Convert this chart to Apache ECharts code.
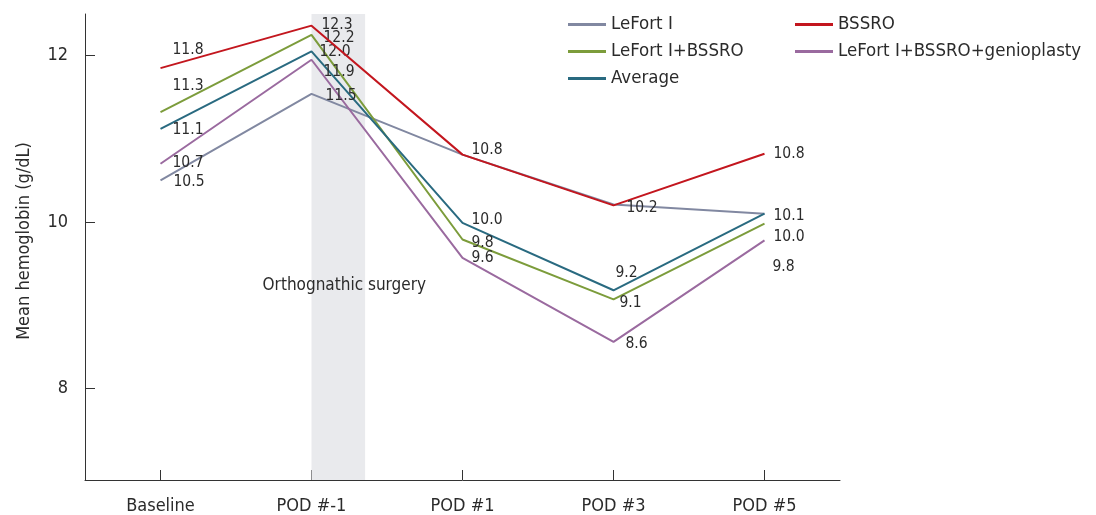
<!DOCTYPE html>
<html><head><meta charset="utf-8">
<script src="https://cdn.jsdelivr.net/npm/echarts@6/dist/echarts.min.js"></script>
<style>html,body{margin:0;padding:0;background:#fff}#c{width:1096px;height:515px}</style>
</head><body><div id="c"></div>
<script>
const categories = ['Baseline', 'POD #-1', 'POD #1', 'POD #3', 'POD #5'];
const seriesNames = ['LeFort I', 'BSSRO', 'LeFort I+BSSRO', 'LeFort I+BSSRO+genioplasty', 'Average'];
const leFort = [10.50, 11.54, 10.81, 10.21, 10.10];
const bssro = [11.85, 12.36, 10.81, 10.20, 10.82];
const leFortBssro = [11.32, 12.25, 9.79, 9.07, 9.98];
const genio = [10.70, 11.95, 9.57, 8.56, 9.78];
const average = [11.12, 12.05, 9.99, 9.18, 10.10];
const leFortLabels = ['10.5', '11.5', null, null, null];
const bssroLabels = ['11.8', '12.3', '10.8', '10.2', '10.8'];
const leFortBssroLabels = ['11.3', '12.2', '9.8', '9.1', '10.0'];
const genioLabels = ['10.7', '11.9', '9.6', '8.6', '9.8'];
const averageLabels = ['11.1', '12.0', '10.0', '9.2', '10.1'];
const yTicks = [8, 10, 12];
const surgeryText = 'Orthognathic surgery';

const FONT = "'Liberation Sans Narrow', 'DejaVu Sans Condensed', 'Noto Sans', sans-serif";
const colors = ['#8188a1', '#c3161e', '#7c9c3b', '#9a6a9f', '#296a80'];
const values = [leFort, bssro, leFortBssro, genio, average];
const labels = [leFortLabels, bssroLabels, leFortBssroLabels, genioLabels, averageLabels];
// label offsets [dx, dy] per series per category (layout only)
const offsets = [
  [[13, 2], [14, 2], [0, 0], [0, 0], [0, 0]],
  [[12, -18], [10, -1], [9, -5], [13, 3], [9, 0]],
  [[12, -26], [12, 3], [9, 3], [6, 4], [9, 13]],
  [[12, -1], [12, 12], [9, 0], [12, 2], [8, 27]],
  [[12, 1], [8, 1], [9, -3], [2, -17], [9, 2]]
];

const series = values.map((vals, si) => ({
  name: seriesNames[si],
  type: 'line',
  symbol: 'circle',
  symbolSize: 0,
  showSymbol: true,
  lineStyle: { width: 2, color: colors[si] },
  itemStyle: { color: colors[si] },
  z: si === 1 ? 5 : 3,
  data: vals.map((v, i) => ({
    value: v,
    label: {
      show: labels[si][i] != null,
      formatter: labels[si][i] || '',
      position: 'right',
      distance: 0,
      offset: offsets[si][i],
      color: '#2b2b2b',
      fontSize: 15.5,
      fontFamily: FONT
    }
  }))
}));

series.push({
  type: 'line',
  xAxisIndex: 1,
  data: [],
  silent: true,
  z: 0,
  markArea: {
    silent: true,
    itemStyle: { color: '#e9eaed' },
    label: {
      show: true,
      position: 'inside',
      offset: [6, 39],
      color: '#2b2b2b',
      fontSize: 17,
      fontFamily: FONT
    },
    data: [[{ xAxis: 1.5, name: surgeryText }, { xAxis: 1.855 }]]
  }
});

const chart = echarts.init(document.getElementById('c'), null, { renderer: 'canvas' });
chart.setOption({
  animation: false,
  grid: { left: 85, right: 256, top: 14, bottom: 33 },
  legend: [
    {
      orient: 'vertical', left: 563, top: 10, itemWidth: 38, itemHeight: 3, itemGap: 8,
      icon: 'rect',
      data: [seriesNames[0], seriesNames[2], seriesNames[4]],
      textStyle: { fontSize: 18.5, color: '#2b2b2b', fontFamily: FONT }
    },
    {
      orient: 'vertical', left: 790, top: 10, itemWidth: 38, itemHeight: 3, itemGap: 8,
      icon: 'rect',
      data: [seriesNames[1], seriesNames[3]],
      textStyle: { fontSize: 18.5, color: '#2b2b2b', fontFamily: FONT }
    }
  ],
  xAxis: [
    {
      type: 'category',
      data: categories,
      boundaryGap: true,
      axisLine: { lineStyle: { color: '#333', width: 1 } },
      axisTick: { show: true, inside: true, length: 10, alignWithLabel: true, lineStyle: { color: '#333' } },
      axisLabel: { margin: 17, fontSize: 18, color: '#2b2b2b', fontFamily: FONT }
    },
    { type: 'value', min: 0, max: 5, show: false }
  ],
  yAxis: {
    type: 'value',
    min: 6.9,
    max: 12.5,
    name: 'Mean hemoglobin (g/dL)',
    nameLocation: 'middle',
    nameGap: 52,
    nameTextStyle: { fontSize: 18, color: '#2b2b2b', fontFamily: FONT, padding: [0, 0, 0, 12] },
    splitLine: { show: false },
    axisLine: { show: true, lineStyle: { color: '#333', width: 1 } },
    axisTick: { show: true, inside: true, length: 10, customValues: yTicks, lineStyle: { color: '#333' } },
    axisLabel: { customValues: yTicks, margin: 17, fontSize: 18, color: '#2b2b2b', fontFamily: FONT }
  },
  series: series
});
</script>
</body></html>
